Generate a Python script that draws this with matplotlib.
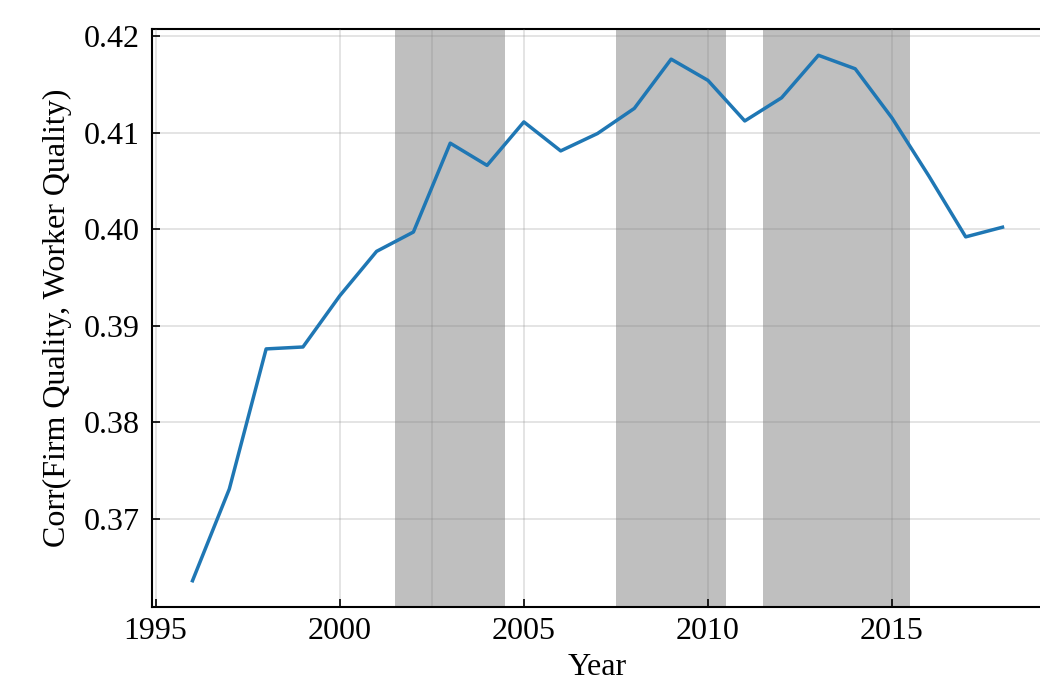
import matplotlib.pyplot as plt
import numpy as np

plt.rcParams['font.family'] = ['Liberation Serif', 'DejaVu Serif']

years = np.arange(1996, 2019)
corr = [0.3636, 0.3731, 0.3876, 0.3878, 0.3931, 0.3977, 0.3997, 0.4089,
        0.4066, 0.4111, 0.4081, 0.4099, 0.4125, 0.4176, 0.4154, 0.4112,
        0.4136, 0.4180, 0.4166, 0.4115, 0.4055, 0.3992, 0.4002]

# shaded periods (start, end)
periods = [(2001.5, 2004.5), (2007.5, 2010.5), (2011.5, 2015.5)]
marker_year = 2002.5

W, H = 1040, 685
fig = plt.figure(figsize=(W / 100, H / 100), dpi=100)
ax = fig.add_axes([152 / W, (H - 607) / H, (1043 - 152) / W, (607 - 29) / H])

for start, end in periods:
    ax.axvspan(start, end, color='gray', alpha=0.5, lw=0, zorder=0)

ax.plot(years, corr, color='#1f77b4', lw=2.5, zorder=3)

ax.grid(True, color='gray', alpha=0.25, lw=1.2, zorder=1)
ax.axvline(marker_year, color='gray', alpha=0.25, lw=1.2, zorder=1)
ax.set_axisbelow(False)

ax.set_xticks([1995, 2000, 2005, 2010, 2015])
ax.set_yticks([0.37, 0.38, 0.39, 0.40, 0.41, 0.42])
ax.set_yticklabels(['0.37', '0.38', '0.39', '0.40', '0.41', '0.42'])
ax.tick_params(direction='in', length=6, width=1.2, labelsize=23)
ax.tick_params(axis='y', pad=9)
ax.tick_params(axis='x', pad=7)

for s in ax.spines.values():
    s.set_linewidth(1.5)
    s.set_color('black')

ax.set_xlabel('Year', fontsize=23, labelpad=5)
ax.set_ylabel('Corr(Firm Quality, Worker Quality)', fontsize=23, labelpad=8)

plt.savefig('out.png', dpi=100)
